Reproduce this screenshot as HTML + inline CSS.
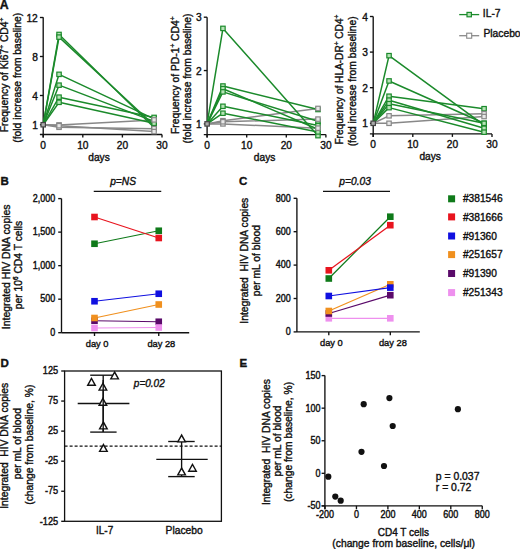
<!DOCTYPE html>
<html><head><meta charset="utf-8"><style>
html,body{margin:0;padding:0;background:#fff;}
svg{display:block;}
text{font-family:"Liberation Sans", sans-serif; stroke:#111; stroke-width:0.38px;}
</style></head><body>
<svg width="520" height="549" viewBox="0 0 520 549">
<rect x="0" y="0" width="520" height="549" fill="#fff"/>
<text x="-0.30" y="8.60" font-size="12.3" text-anchor="start" font-weight="bold" font-style="normal" fill="#111" >A</text>
<text x="0.50" y="185.30" font-size="11.5" text-anchor="start" font-weight="bold" font-style="normal" fill="#111" >B</text>
<text x="239.00" y="185.30" font-size="11.5" text-anchor="start" font-weight="bold" font-style="normal" fill="#111" >C</text>
<text x="0.40" y="367.40" font-size="11.5" text-anchor="start" font-weight="bold" font-style="normal" fill="#111" >D</text>
<text x="239.40" y="366.80" font-size="11.5" text-anchor="start" font-weight="bold" font-style="normal" fill="#111" >E</text>
<line x1="43.20" y1="17.20" x2="43.20" y2="137.50" stroke="#111" stroke-width="1.35" />
<line x1="39.90" y1="134.50" x2="162.00" y2="134.50" stroke="#111" stroke-width="1.35" />
<line x1="39.90" y1="124.75" x2="43.20" y2="124.75" stroke="#111" stroke-width="1.35" />
<text x="37.80" y="128.75" font-size="10.2" text-anchor="end" font-weight="normal" font-style="normal" fill="#111" >1</text>
<line x1="39.90" y1="95.50" x2="43.20" y2="95.50" stroke="#111" stroke-width="1.35" />
<text x="37.80" y="99.50" font-size="10.2" text-anchor="end" font-weight="normal" font-style="normal" fill="#111" >4</text>
<line x1="39.90" y1="56.50" x2="43.20" y2="56.50" stroke="#111" stroke-width="1.35" />
<text x="37.80" y="60.50" font-size="10.2" text-anchor="end" font-weight="normal" font-style="normal" fill="#111" >8</text>
<line x1="39.90" y1="17.50" x2="43.20" y2="17.50" stroke="#111" stroke-width="1.35" />
<text x="37.80" y="21.50" font-size="10.2" text-anchor="end" font-weight="normal" font-style="normal" fill="#111" >12</text>
<line x1="43.20" y1="134.50" x2="43.20" y2="137.50" stroke="#111" stroke-width="1.35" />
<text x="43.20" y="148.60" font-size="10.2" text-anchor="middle" font-weight="normal" font-style="normal" fill="#111" >0</text>
<line x1="82.80" y1="134.50" x2="82.80" y2="137.50" stroke="#111" stroke-width="1.35" />
<text x="82.80" y="148.60" font-size="10.2" text-anchor="middle" font-weight="normal" font-style="normal" fill="#111" >10</text>
<line x1="122.40" y1="134.50" x2="122.40" y2="137.50" stroke="#111" stroke-width="1.35" />
<text x="122.40" y="148.60" font-size="10.2" text-anchor="middle" font-weight="normal" font-style="normal" fill="#111" >20</text>
<line x1="162.00" y1="134.50" x2="162.00" y2="137.50" stroke="#111" stroke-width="1.35" />
<text x="162.00" y="148.60" font-size="10.2" text-anchor="middle" font-weight="normal" font-style="normal" fill="#111" >30</text>
<text x="99.00" y="161.00" font-size="10.2" text-anchor="middle" font-weight="normal" font-style="normal" fill="#111" >days</text>
<text transform="translate(7.70,132.30) rotate(-90)" font-size="10.3" fill="#111">Frequency of Ki67<tspan font-size="6.5" dy="-3.6">+</tspan><tspan dy="3.6"> CD4</tspan><tspan font-size="6.5" dy="-3.6">+</tspan></text>
<text transform="translate(20.90,77.80) rotate(-90)" font-size="10.3" text-anchor="middle" font-weight="normal" font-style="normal" fill="#111" >(fold increase from baseline)</text>
<polyline points="43.20,124.75 59.04,124.94 154.08,119.88" fill="none" stroke="#888888" stroke-width="1.5" stroke-linejoin="round"/>
<polyline points="43.20,124.75 59.04,127.28 154.08,128.65" fill="none" stroke="#888888" stroke-width="1.5" stroke-linejoin="round"/>
<polyline points="43.20,124.75 59.04,125.72 154.08,131.57" fill="none" stroke="#888888" stroke-width="1.5" stroke-linejoin="round"/>
<polyline points="43.20,124.75 59.04,34.47 154.08,127.48" fill="none" stroke="#1b8a2b" stroke-width="1.5" stroke-linejoin="round"/>
<polyline points="43.20,124.75 59.04,37.10 154.08,125.24" fill="none" stroke="#1b8a2b" stroke-width="1.5" stroke-linejoin="round"/>
<polyline points="43.20,124.75 59.04,74.34 154.08,118.90" fill="none" stroke="#1b8a2b" stroke-width="1.5" stroke-linejoin="round"/>
<polyline points="43.20,124.75 59.04,85.17 154.08,121.34" fill="none" stroke="#1b8a2b" stroke-width="1.5" stroke-linejoin="round"/>
<polyline points="43.20,124.75 59.04,97.16 154.08,117.44" fill="none" stroke="#1b8a2b" stroke-width="1.5" stroke-linejoin="round"/>
<polyline points="43.20,124.75 59.04,102.33 154.08,123.29" fill="none" stroke="#1b8a2b" stroke-width="1.5" stroke-linejoin="round"/>
<rect x="56.84" y="32.27" width="4.4" height="4.4" fill="#b6e3b6" stroke="#1b8a2b" stroke-width="1.2"/>
<rect x="151.88" y="125.28" width="4.4" height="4.4" fill="#b6e3b6" stroke="#1b8a2b" stroke-width="1.2"/>
<rect x="56.84" y="34.90" width="4.4" height="4.4" fill="#b6e3b6" stroke="#1b8a2b" stroke-width="1.2"/>
<rect x="151.88" y="123.04" width="4.4" height="4.4" fill="#b6e3b6" stroke="#1b8a2b" stroke-width="1.2"/>
<rect x="56.84" y="72.14" width="4.4" height="4.4" fill="#b6e3b6" stroke="#1b8a2b" stroke-width="1.2"/>
<rect x="151.88" y="116.70" width="4.4" height="4.4" fill="#b6e3b6" stroke="#1b8a2b" stroke-width="1.2"/>
<rect x="56.84" y="82.97" width="4.4" height="4.4" fill="#b6e3b6" stroke="#1b8a2b" stroke-width="1.2"/>
<rect x="151.88" y="119.14" width="4.4" height="4.4" fill="#b6e3b6" stroke="#1b8a2b" stroke-width="1.2"/>
<rect x="56.84" y="94.96" width="4.4" height="4.4" fill="#b6e3b6" stroke="#1b8a2b" stroke-width="1.2"/>
<rect x="151.88" y="115.24" width="4.4" height="4.4" fill="#b6e3b6" stroke="#1b8a2b" stroke-width="1.2"/>
<rect x="56.84" y="100.12" width="4.4" height="4.4" fill="#b6e3b6" stroke="#1b8a2b" stroke-width="1.2"/>
<rect x="151.88" y="121.09" width="4.4" height="4.4" fill="#b6e3b6" stroke="#1b8a2b" stroke-width="1.2"/>
<rect x="56.84" y="122.74" width="4.4" height="4.4" fill="#e8e8e8" stroke="#888888" stroke-width="1.2"/>
<rect x="151.88" y="117.67" width="4.4" height="4.4" fill="#e8e8e8" stroke="#888888" stroke-width="1.2"/>
<rect x="56.84" y="125.08" width="4.4" height="4.4" fill="#e8e8e8" stroke="#888888" stroke-width="1.2"/>
<rect x="151.88" y="126.45" width="4.4" height="4.4" fill="#e8e8e8" stroke="#888888" stroke-width="1.2"/>
<rect x="56.84" y="123.52" width="4.4" height="4.4" fill="#e8e8e8" stroke="#888888" stroke-width="1.2"/>
<rect x="151.88" y="129.38" width="4.4" height="4.4" fill="#e8e8e8" stroke="#888888" stroke-width="1.2"/>
<rect x="41.00" y="122.55" width="4.4" height="4.4" fill="#aaa" stroke="#444" stroke-width="1.2"/>
<line x1="207.10" y1="17.20" x2="207.10" y2="137.60" stroke="#111" stroke-width="1.35" />
<line x1="203.80" y1="134.60" x2="325.90" y2="134.60" stroke="#111" stroke-width="1.35" />
<line x1="203.80" y1="123.90" x2="207.10" y2="123.90" stroke="#111" stroke-width="1.35" />
<text x="201.70" y="127.90" font-size="10.2" text-anchor="end" font-weight="normal" font-style="normal" fill="#111" >1</text>
<line x1="203.80" y1="70.55" x2="207.10" y2="70.55" stroke="#111" stroke-width="1.35" />
<text x="201.70" y="74.55" font-size="10.2" text-anchor="end" font-weight="normal" font-style="normal" fill="#111" >2</text>
<line x1="203.80" y1="17.20" x2="207.10" y2="17.20" stroke="#111" stroke-width="1.35" />
<text x="201.70" y="21.20" font-size="10.2" text-anchor="end" font-weight="normal" font-style="normal" fill="#111" >3</text>
<line x1="207.10" y1="134.60" x2="207.10" y2="137.60" stroke="#111" stroke-width="1.35" />
<text x="207.10" y="148.70" font-size="10.2" text-anchor="middle" font-weight="normal" font-style="normal" fill="#111" >0</text>
<line x1="246.70" y1="134.60" x2="246.70" y2="137.60" stroke="#111" stroke-width="1.35" />
<text x="246.70" y="148.70" font-size="10.2" text-anchor="middle" font-weight="normal" font-style="normal" fill="#111" >10</text>
<line x1="286.30" y1="134.60" x2="286.30" y2="137.60" stroke="#111" stroke-width="1.35" />
<text x="286.30" y="148.70" font-size="10.2" text-anchor="middle" font-weight="normal" font-style="normal" fill="#111" >20</text>
<line x1="325.90" y1="134.60" x2="325.90" y2="137.60" stroke="#111" stroke-width="1.35" />
<text x="325.90" y="148.70" font-size="10.2" text-anchor="middle" font-weight="normal" font-style="normal" fill="#111" >30</text>
<text x="264.60" y="161.10" font-size="10.2" text-anchor="middle" font-weight="normal" font-style="normal" fill="#111" >days</text>
<text transform="translate(178.50,134.00) rotate(-90)" font-size="10.3" fill="#111">Frequency of PD-1<tspan font-size="6.5" dy="-3.6">+</tspan><tspan dy="3.6"> CD4</tspan><tspan font-size="6.5" dy="-3.6">+</tspan></text>
<text transform="translate(191.20,78.50) rotate(-90)" font-size="10.3" text-anchor="middle" font-weight="normal" font-style="normal" fill="#111" >(fold increase from baseline)</text>
<polyline points="207.10,123.90 222.94,120.70 317.98,108.43" fill="none" stroke="#888888" stroke-width="1.5" stroke-linejoin="round"/>
<polyline points="207.10,123.90 222.94,123.90 317.98,128.17" fill="none" stroke="#888888" stroke-width="1.5" stroke-linejoin="round"/>
<polyline points="207.10,123.90 222.94,121.77 317.98,119.10" fill="none" stroke="#888888" stroke-width="1.5" stroke-linejoin="round"/>
<polyline points="207.10,123.90 222.94,28.40 317.98,135.64" fill="none" stroke="#1b8a2b" stroke-width="1.5" stroke-linejoin="round"/>
<polyline points="207.10,123.90 222.94,86.02 317.98,109.50" fill="none" stroke="#1b8a2b" stroke-width="1.5" stroke-linejoin="round"/>
<polyline points="207.10,123.90 222.94,88.69 317.98,129.24" fill="none" stroke="#1b8a2b" stroke-width="1.5" stroke-linejoin="round"/>
<polyline points="207.10,123.90 222.94,91.89 317.98,121.23" fill="none" stroke="#1b8a2b" stroke-width="1.5" stroke-linejoin="round"/>
<polyline points="207.10,123.90 222.94,106.29 317.98,125.50" fill="none" stroke="#1b8a2b" stroke-width="1.5" stroke-linejoin="round"/>
<polyline points="207.10,123.90 222.94,113.23 317.98,131.90" fill="none" stroke="#1b8a2b" stroke-width="1.5" stroke-linejoin="round"/>
<rect x="220.74" y="26.20" width="4.4" height="4.4" fill="#b6e3b6" stroke="#1b8a2b" stroke-width="1.2"/>
<rect x="315.78" y="133.44" width="4.4" height="4.4" fill="#b6e3b6" stroke="#1b8a2b" stroke-width="1.2"/>
<rect x="220.74" y="83.82" width="4.4" height="4.4" fill="#b6e3b6" stroke="#1b8a2b" stroke-width="1.2"/>
<rect x="315.78" y="107.30" width="4.4" height="4.4" fill="#b6e3b6" stroke="#1b8a2b" stroke-width="1.2"/>
<rect x="220.74" y="86.49" width="4.4" height="4.4" fill="#b6e3b6" stroke="#1b8a2b" stroke-width="1.2"/>
<rect x="315.78" y="127.04" width="4.4" height="4.4" fill="#b6e3b6" stroke="#1b8a2b" stroke-width="1.2"/>
<rect x="220.74" y="89.69" width="4.4" height="4.4" fill="#b6e3b6" stroke="#1b8a2b" stroke-width="1.2"/>
<rect x="315.78" y="119.03" width="4.4" height="4.4" fill="#b6e3b6" stroke="#1b8a2b" stroke-width="1.2"/>
<rect x="220.74" y="104.09" width="4.4" height="4.4" fill="#b6e3b6" stroke="#1b8a2b" stroke-width="1.2"/>
<rect x="315.78" y="123.30" width="4.4" height="4.4" fill="#b6e3b6" stroke="#1b8a2b" stroke-width="1.2"/>
<rect x="220.74" y="111.03" width="4.4" height="4.4" fill="#b6e3b6" stroke="#1b8a2b" stroke-width="1.2"/>
<rect x="315.78" y="129.70" width="4.4" height="4.4" fill="#b6e3b6" stroke="#1b8a2b" stroke-width="1.2"/>
<rect x="220.74" y="118.50" width="4.4" height="4.4" fill="#e8e8e8" stroke="#888888" stroke-width="1.2"/>
<rect x="315.78" y="106.23" width="4.4" height="4.4" fill="#e8e8e8" stroke="#888888" stroke-width="1.2"/>
<rect x="220.74" y="121.70" width="4.4" height="4.4" fill="#e8e8e8" stroke="#888888" stroke-width="1.2"/>
<rect x="315.78" y="125.97" width="4.4" height="4.4" fill="#e8e8e8" stroke="#888888" stroke-width="1.2"/>
<rect x="220.74" y="119.57" width="4.4" height="4.4" fill="#e8e8e8" stroke="#888888" stroke-width="1.2"/>
<rect x="315.78" y="116.90" width="4.4" height="4.4" fill="#e8e8e8" stroke="#888888" stroke-width="1.2"/>
<rect x="204.90" y="121.70" width="4.4" height="4.4" fill="#aaa" stroke="#444" stroke-width="1.2"/>
<line x1="373.20" y1="16.50" x2="373.20" y2="136.90" stroke="#111" stroke-width="1.35" />
<line x1="369.90" y1="133.90" x2="492.00" y2="133.90" stroke="#111" stroke-width="1.35" />
<line x1="369.90" y1="123.30" x2="373.20" y2="123.30" stroke="#111" stroke-width="1.35" />
<text x="367.80" y="127.30" font-size="10.2" text-anchor="end" font-weight="normal" font-style="normal" fill="#111" >1</text>
<line x1="369.90" y1="87.70" x2="373.20" y2="87.70" stroke="#111" stroke-width="1.35" />
<text x="367.80" y="91.70" font-size="10.2" text-anchor="end" font-weight="normal" font-style="normal" fill="#111" >2</text>
<line x1="369.90" y1="52.10" x2="373.20" y2="52.10" stroke="#111" stroke-width="1.35" />
<text x="367.80" y="56.10" font-size="10.2" text-anchor="end" font-weight="normal" font-style="normal" fill="#111" >3</text>
<line x1="369.90" y1="16.50" x2="373.20" y2="16.50" stroke="#111" stroke-width="1.35" />
<text x="367.80" y="20.50" font-size="10.2" text-anchor="end" font-weight="normal" font-style="normal" fill="#111" >4</text>
<line x1="373.20" y1="133.90" x2="373.20" y2="136.90" stroke="#111" stroke-width="1.35" />
<text x="373.20" y="148.00" font-size="10.2" text-anchor="middle" font-weight="normal" font-style="normal" fill="#111" >0</text>
<line x1="412.80" y1="133.90" x2="412.80" y2="136.90" stroke="#111" stroke-width="1.35" />
<text x="412.80" y="148.00" font-size="10.2" text-anchor="middle" font-weight="normal" font-style="normal" fill="#111" >10</text>
<line x1="452.40" y1="133.90" x2="452.40" y2="136.90" stroke="#111" stroke-width="1.35" />
<text x="452.40" y="148.00" font-size="10.2" text-anchor="middle" font-weight="normal" font-style="normal" fill="#111" >20</text>
<line x1="492.00" y1="133.90" x2="492.00" y2="136.90" stroke="#111" stroke-width="1.35" />
<text x="492.00" y="148.00" font-size="10.2" text-anchor="middle" font-weight="normal" font-style="normal" fill="#111" >30</text>
<text x="430.20" y="160.40" font-size="10.2" text-anchor="middle" font-weight="normal" font-style="normal" fill="#111" >days</text>
<text transform="translate(343.00,144.60) rotate(-90)" font-size="10.1" fill="#111">Frequency of HLA-DR<tspan font-size="6.5" dy="-3.6">+</tspan><tspan dy="3.6"> CD4</tspan><tspan font-size="6.5" dy="-3.6">+</tspan></text>
<text transform="translate(356.00,81.40) rotate(-90)" font-size="10.3" text-anchor="middle" font-weight="normal" font-style="normal" fill="#111" >(fold increase from baseline)</text>
<polyline points="373.20,123.30 389.04,115.82 484.08,113.69" fill="none" stroke="#888888" stroke-width="1.5" stroke-linejoin="round"/>
<polyline points="373.20,123.30 389.04,123.30 484.08,116.54" fill="none" stroke="#888888" stroke-width="1.5" stroke-linejoin="round"/>
<polyline points="373.20,123.30 389.04,55.66 484.08,125.08" fill="none" stroke="#1b8a2b" stroke-width="1.5" stroke-linejoin="round"/>
<polyline points="373.20,123.30 389.04,80.94 484.08,123.30" fill="none" stroke="#1b8a2b" stroke-width="1.5" stroke-linejoin="round"/>
<polyline points="373.20,123.30 389.04,96.24 484.08,108.70" fill="none" stroke="#1b8a2b" stroke-width="1.5" stroke-linejoin="round"/>
<polyline points="373.20,123.30 389.04,100.16 484.08,128.28" fill="none" stroke="#1b8a2b" stroke-width="1.5" stroke-linejoin="round"/>
<polyline points="373.20,123.30 389.04,103.72 484.08,123.30" fill="none" stroke="#1b8a2b" stroke-width="1.5" stroke-linejoin="round"/>
<polyline points="373.20,123.30 389.04,107.64 484.08,132.20" fill="none" stroke="#1b8a2b" stroke-width="1.5" stroke-linejoin="round"/>
<rect x="386.84" y="53.46" width="4.4" height="4.4" fill="#b6e3b6" stroke="#1b8a2b" stroke-width="1.2"/>
<rect x="481.88" y="122.88" width="4.4" height="4.4" fill="#b6e3b6" stroke="#1b8a2b" stroke-width="1.2"/>
<rect x="386.84" y="78.74" width="4.4" height="4.4" fill="#b6e3b6" stroke="#1b8a2b" stroke-width="1.2"/>
<rect x="481.88" y="121.10" width="4.4" height="4.4" fill="#b6e3b6" stroke="#1b8a2b" stroke-width="1.2"/>
<rect x="386.84" y="94.04" width="4.4" height="4.4" fill="#b6e3b6" stroke="#1b8a2b" stroke-width="1.2"/>
<rect x="481.88" y="106.50" width="4.4" height="4.4" fill="#b6e3b6" stroke="#1b8a2b" stroke-width="1.2"/>
<rect x="386.84" y="97.96" width="4.4" height="4.4" fill="#b6e3b6" stroke="#1b8a2b" stroke-width="1.2"/>
<rect x="481.88" y="126.08" width="4.4" height="4.4" fill="#b6e3b6" stroke="#1b8a2b" stroke-width="1.2"/>
<rect x="386.84" y="101.52" width="4.4" height="4.4" fill="#b6e3b6" stroke="#1b8a2b" stroke-width="1.2"/>
<rect x="481.88" y="121.10" width="4.4" height="4.4" fill="#b6e3b6" stroke="#1b8a2b" stroke-width="1.2"/>
<rect x="386.84" y="105.44" width="4.4" height="4.4" fill="#b6e3b6" stroke="#1b8a2b" stroke-width="1.2"/>
<rect x="481.88" y="130.00" width="4.4" height="4.4" fill="#b6e3b6" stroke="#1b8a2b" stroke-width="1.2"/>
<rect x="386.84" y="113.62" width="4.4" height="4.4" fill="#e8e8e8" stroke="#888888" stroke-width="1.2"/>
<rect x="481.88" y="111.49" width="4.4" height="4.4" fill="#e8e8e8" stroke="#888888" stroke-width="1.2"/>
<rect x="386.84" y="121.10" width="4.4" height="4.4" fill="#e8e8e8" stroke="#888888" stroke-width="1.2"/>
<rect x="481.88" y="114.34" width="4.4" height="4.4" fill="#e8e8e8" stroke="#888888" stroke-width="1.2"/>
<rect x="371.00" y="121.10" width="4.4" height="4.4" fill="#aaa" stroke="#444" stroke-width="1.2"/>
<line x1="459.20" y1="14.60" x2="479.20" y2="14.60" stroke="#1b8a2b" stroke-width="1.3" />
<rect x="467.00" y="12.40" width="4.4" height="4.4" fill="#b6e3b6" stroke="#1b8a2b" stroke-width="1.2"/>
<text x="482.80" y="16.60" font-size="10.3" text-anchor="start" font-weight="normal" font-style="normal" fill="#111" >IL-7</text>
<line x1="459.20" y1="35.70" x2="479.20" y2="35.70" stroke="#888888" stroke-width="1.3" />
<rect x="466.70" y="33.20" width="5" height="5" fill="#fff" stroke="#888888" stroke-width="1.1"/>
<text x="483.40" y="37.40" font-size="10.3" text-anchor="start" font-weight="normal" font-style="normal" fill="#111" >Placebo</text>
<line x1="61.50" y1="198.60" x2="61.50" y2="332.70" stroke="#111" stroke-width="1.35" />
<line x1="61.50" y1="332.70" x2="189.20" y2="332.70" stroke="#111" stroke-width="1.35" />
<line x1="58.20" y1="332.70" x2="61.50" y2="332.70" stroke="#111" stroke-width="1.35" />
<text transform="translate(55.30,335.90) scale(1,1.14)" font-size="9.0" text-anchor="end" font-weight="normal" font-style="normal" fill="#111" >0</text>
<line x1="58.20" y1="299.18" x2="61.50" y2="299.18" stroke="#111" stroke-width="1.35" />
<text transform="translate(55.30,302.38) scale(1,1.14)" font-size="9.0" text-anchor="end" font-weight="normal" font-style="normal" fill="#111" >500</text>
<line x1="58.20" y1="265.65" x2="61.50" y2="265.65" stroke="#111" stroke-width="1.35" />
<text transform="translate(55.30,268.85) scale(1,1.14)" font-size="9.0" text-anchor="end" font-weight="normal" font-style="normal" fill="#111" >1,000</text>
<line x1="58.20" y1="232.12" x2="61.50" y2="232.12" stroke="#111" stroke-width="1.35" />
<text transform="translate(55.30,235.32) scale(1,1.14)" font-size="9.0" text-anchor="end" font-weight="normal" font-style="normal" fill="#111" >1,500</text>
<line x1="58.20" y1="198.60" x2="61.50" y2="198.60" stroke="#111" stroke-width="1.35" />
<text transform="translate(55.30,201.80) scale(1,1.14)" font-size="9.0" text-anchor="end" font-weight="normal" font-style="normal" fill="#111" >2,000</text>
<line x1="94.50" y1="332.70" x2="94.50" y2="336.00" stroke="#111" stroke-width="1.35" />
<text x="97.10" y="347.20" font-size="9.3" text-anchor="middle" font-weight="normal" font-style="normal" fill="#111" >day 0</text>
<line x1="158.75" y1="332.70" x2="158.75" y2="336.00" stroke="#111" stroke-width="1.35" />
<text x="161.35" y="347.20" font-size="9.3" text-anchor="middle" font-weight="normal" font-style="normal" fill="#111" >day 28</text>
<line x1="94.50" y1="320.75" x2="158.75" y2="321.75" stroke="#5a0a6a" stroke-width="1.25" />
<line x1="94.50" y1="328.00" x2="158.75" y2="327.50" stroke="#ee90ee" stroke-width="1.25" />
<line x1="94.50" y1="318.00" x2="158.75" y2="304.50" stroke="#f0901e" stroke-width="1.25" />
<line x1="94.50" y1="301.25" x2="158.75" y2="293.75" stroke="#1010e0" stroke-width="1.25" />
<line x1="94.50" y1="243.75" x2="158.75" y2="230.75" stroke="#0f7a1a" stroke-width="1.25" />
<line x1="94.50" y1="217.00" x2="158.75" y2="238.00" stroke="#e8141e" stroke-width="1.25" />
<rect x="91.20" y="317.45" width="6.6" height="6.6" fill="#5a0a6a"/>
<rect x="155.45" y="318.45" width="6.6" height="6.6" fill="#5a0a6a"/>
<rect x="91.20" y="324.70" width="6.6" height="6.6" fill="#ee90ee"/>
<rect x="155.45" y="324.20" width="6.6" height="6.6" fill="#ee90ee"/>
<rect x="91.20" y="314.70" width="6.6" height="6.6" fill="#f0901e"/>
<rect x="155.45" y="301.20" width="6.6" height="6.6" fill="#f0901e"/>
<rect x="91.20" y="297.95" width="6.6" height="6.6" fill="#1010e0"/>
<rect x="155.45" y="290.45" width="6.6" height="6.6" fill="#1010e0"/>
<rect x="91.20" y="240.45" width="6.6" height="6.6" fill="#0f7a1a"/>
<rect x="155.45" y="227.45" width="6.6" height="6.6" fill="#0f7a1a"/>
<rect x="91.20" y="213.70" width="6.6" height="6.6" fill="#e8141e"/>
<rect x="155.45" y="234.70" width="6.6" height="6.6" fill="#e8141e"/>
<text x="123.10" y="184.60" font-size="10.2" text-anchor="middle" font-weight="normal" font-style="italic" fill="#111" >p=NS</text>
<line x1="93.75" y1="191.30" x2="161.25" y2="191.30" stroke="#111" stroke-width="1.2" />
<text transform="translate(9.60,266.80) rotate(-90)" font-size="10.45" text-anchor="middle" font-weight="normal" font-style="normal" fill="#111" >Integrated HIV DNA copies</text>
<text transform="translate(21.8,265.0) rotate(-90)" font-size="10.3" text-anchor="middle" fill="#111">per 10<tspan font-size="6.5" dy="-3.6">6</tspan><tspan dy="3.6"> CD4 T cells</tspan></text>
<line x1="296.90" y1="198.30" x2="296.90" y2="331.90" stroke="#111" stroke-width="1.35" />
<line x1="296.90" y1="331.90" x2="419.80" y2="331.90" stroke="#111" stroke-width="1.35" />
<line x1="293.60" y1="331.90" x2="296.90" y2="331.90" stroke="#111" stroke-width="1.35" />
<text transform="translate(290.70,335.10) scale(1,1.14)" font-size="9.0" text-anchor="end" font-weight="normal" font-style="normal" fill="#111" >0</text>
<line x1="293.60" y1="298.50" x2="296.90" y2="298.50" stroke="#111" stroke-width="1.35" />
<text transform="translate(290.70,301.70) scale(1,1.14)" font-size="9.0" text-anchor="end" font-weight="normal" font-style="normal" fill="#111" >200</text>
<line x1="293.60" y1="265.10" x2="296.90" y2="265.10" stroke="#111" stroke-width="1.35" />
<text transform="translate(290.70,268.30) scale(1,1.14)" font-size="9.0" text-anchor="end" font-weight="normal" font-style="normal" fill="#111" >400</text>
<line x1="293.60" y1="231.70" x2="296.90" y2="231.70" stroke="#111" stroke-width="1.35" />
<text transform="translate(290.70,234.90) scale(1,1.14)" font-size="9.0" text-anchor="end" font-weight="normal" font-style="normal" fill="#111" >600</text>
<line x1="293.60" y1="198.30" x2="296.90" y2="198.30" stroke="#111" stroke-width="1.35" />
<text transform="translate(290.70,201.50) scale(1,1.14)" font-size="9.0" text-anchor="end" font-weight="normal" font-style="normal" fill="#111" >800</text>
<line x1="328.80" y1="331.90" x2="328.80" y2="335.20" stroke="#111" stroke-width="1.35" />
<text x="331.40" y="346.40" font-size="9.3" text-anchor="middle" font-weight="normal" font-style="normal" fill="#111" >day 0</text>
<line x1="390.30" y1="331.90" x2="390.30" y2="335.20" stroke="#111" stroke-width="1.35" />
<text x="392.90" y="346.40" font-size="9.3" text-anchor="middle" font-weight="normal" font-style="normal" fill="#111" >day 28</text>
<line x1="328.80" y1="318.30" x2="390.30" y2="318.30" stroke="#ee90ee" stroke-width="1.25" />
<line x1="328.80" y1="313.50" x2="390.30" y2="295.20" stroke="#5a0a6a" stroke-width="1.25" />
<line x1="328.80" y1="311.00" x2="390.30" y2="284.30" stroke="#f0901e" stroke-width="1.25" />
<line x1="328.80" y1="296.00" x2="390.30" y2="287.60" stroke="#1010e0" stroke-width="1.25" />
<line x1="328.80" y1="278.50" x2="390.30" y2="216.70" stroke="#0f7a1a" stroke-width="1.25" />
<line x1="328.80" y1="270.30" x2="390.30" y2="225.20" stroke="#e8141e" stroke-width="1.25" />
<rect x="325.50" y="315.00" width="6.6" height="6.6" fill="#ee90ee"/>
<rect x="387.00" y="315.00" width="6.6" height="6.6" fill="#ee90ee"/>
<rect x="325.50" y="310.20" width="6.6" height="6.6" fill="#5a0a6a"/>
<rect x="387.00" y="291.90" width="6.6" height="6.6" fill="#5a0a6a"/>
<rect x="325.50" y="307.70" width="6.6" height="6.6" fill="#f0901e"/>
<rect x="387.00" y="281.00" width="6.6" height="6.6" fill="#f0901e"/>
<rect x="325.50" y="292.70" width="6.6" height="6.6" fill="#1010e0"/>
<rect x="387.00" y="284.30" width="6.6" height="6.6" fill="#1010e0"/>
<rect x="325.50" y="275.20" width="6.6" height="6.6" fill="#0f7a1a"/>
<rect x="387.00" y="213.40" width="6.6" height="6.6" fill="#0f7a1a"/>
<rect x="325.50" y="267.00" width="6.6" height="6.6" fill="#e8141e"/>
<rect x="387.00" y="221.90" width="6.6" height="6.6" fill="#e8141e"/>
<text x="355.10" y="184.60" font-size="10.2" text-anchor="middle" font-weight="normal" font-style="italic" fill="#111" >p=0.03</text>
<line x1="323.00" y1="191.30" x2="390.00" y2="191.30" stroke="#111" stroke-width="1.2" />
<text transform="translate(247.50,260.70) rotate(-90)" font-size="10.3" text-anchor="middle" font-weight="normal" font-style="normal" fill="#111" xml:space="preserve">Integrated  HIV DNA copies</text>
<text transform="translate(260.00,260.70) rotate(-90)" font-size="10.3" text-anchor="middle" font-weight="normal" font-style="normal" fill="#111" >per mL of blood</text>
<rect x="448.10" y="195.30" width="7.0" height="7.0" fill="#0f7a1a"/>
<text x="462.90" y="202.40" font-size="10.2" text-anchor="start" font-weight="normal" font-style="normal" fill="#111" >#381546</text>
<rect x="448.10" y="213.40" width="7.0" height="7.0" fill="#e8141e"/>
<text x="462.90" y="220.50" font-size="10.2" text-anchor="start" font-weight="normal" font-style="normal" fill="#111" >#381666</text>
<rect x="448.10" y="232.50" width="7.0" height="7.0" fill="#1010e0"/>
<text x="462.90" y="239.60" font-size="10.2" text-anchor="start" font-weight="normal" font-style="normal" fill="#111" >#91360</text>
<rect x="448.10" y="251.10" width="7.0" height="7.0" fill="#f0901e"/>
<text x="462.90" y="258.20" font-size="10.2" text-anchor="start" font-weight="normal" font-style="normal" fill="#111" >#251657</text>
<rect x="448.10" y="270.00" width="7.0" height="7.0" fill="#5a0a6a"/>
<text x="462.90" y="277.10" font-size="10.2" text-anchor="start" font-weight="normal" font-style="normal" fill="#111" >#91390</text>
<rect x="448.10" y="289.10" width="7.0" height="7.0" fill="#ee90ee"/>
<text x="462.90" y="296.20" font-size="10.2" text-anchor="start" font-weight="normal" font-style="normal" fill="#111" >#251343</text>
<rect x="64.6" y="371.0" width="156.8" height="150.3" fill="none" stroke="#111" stroke-width="1.3"/>
<line x1="61.20" y1="371.00" x2="64.60" y2="371.00" stroke="#111" stroke-width="1.35" />
<text transform="translate(58.20,374.20) scale(1,1.14)" font-size="9.2" text-anchor="end" font-weight="normal" font-style="normal" fill="#111" >125</text>
<line x1="61.20" y1="401.06" x2="64.60" y2="401.06" stroke="#111" stroke-width="1.35" />
<text transform="translate(58.20,404.26) scale(1,1.14)" font-size="9.2" text-anchor="end" font-weight="normal" font-style="normal" fill="#111" >75</text>
<line x1="61.20" y1="431.12" x2="64.60" y2="431.12" stroke="#111" stroke-width="1.35" />
<text transform="translate(58.20,434.32) scale(1,1.14)" font-size="9.2" text-anchor="end" font-weight="normal" font-style="normal" fill="#111" >25</text>
<line x1="61.20" y1="461.18" x2="64.60" y2="461.18" stroke="#111" stroke-width="1.35" />
<text transform="translate(58.20,464.38) scale(1,1.14)" font-size="9.2" text-anchor="end" font-weight="normal" font-style="normal" fill="#111" >-25</text>
<line x1="61.20" y1="491.24" x2="64.60" y2="491.24" stroke="#111" stroke-width="1.35" />
<text transform="translate(58.20,494.44) scale(1,1.14)" font-size="9.2" text-anchor="end" font-weight="normal" font-style="normal" fill="#111" >-75</text>
<line x1="61.20" y1="521.30" x2="64.60" y2="521.30" stroke="#111" stroke-width="1.35" />
<text transform="translate(58.20,524.50) scale(1,1.14)" font-size="9.2" text-anchor="end" font-weight="normal" font-style="normal" fill="#111" >-125</text>
<line x1="64.60" y1="446.10" x2="221.40" y2="446.10" stroke="#111" stroke-width="1.1" stroke-dasharray="3,2"/>
<line x1="103.20" y1="375.20" x2="103.20" y2="432.10" stroke="#111" stroke-width="1.35" />
<line x1="90.20" y1="375.20" x2="116.30" y2="375.20" stroke="#111" stroke-width="1.35" />
<line x1="77.70" y1="403.50" x2="129.40" y2="403.50" stroke="#111" stroke-width="1.35" />
<line x1="90.20" y1="432.10" x2="116.60" y2="432.10" stroke="#111" stroke-width="1.35" />
<polygon points="114.60,372.06 110.80,378.90 118.40,378.90" fill="#fff" stroke="#111" stroke-width="1.4"/>
<polygon points="91.50,378.46 87.70,385.30 95.30,385.30" fill="#fff" stroke="#111" stroke-width="1.4"/>
<polygon points="102.90,383.26 99.10,390.10 106.70,390.10" fill="#fff" stroke="#111" stroke-width="1.4"/>
<polygon points="102.90,398.46 99.10,405.30 106.70,405.30" fill="#fff" stroke="#111" stroke-width="1.4"/>
<polygon points="103.40,422.06 99.60,428.90 107.20,428.90" fill="#fff" stroke="#111" stroke-width="1.4"/>
<polygon points="103.40,444.56 99.60,451.40 107.20,451.40" fill="#fff" stroke="#111" stroke-width="1.4"/>
<line x1="103.20" y1="380.00" x2="103.20" y2="432.10" stroke="#111" stroke-width="1.35" />
<line x1="181.60" y1="441.50" x2="181.60" y2="476.60" stroke="#111" stroke-width="1.35" />
<line x1="168.20" y1="441.50" x2="194.70" y2="441.50" stroke="#111" stroke-width="1.35" />
<line x1="156.30" y1="459.30" x2="207.70" y2="459.30" stroke="#111" stroke-width="1.35" />
<line x1="168.20" y1="476.60" x2="194.70" y2="476.60" stroke="#111" stroke-width="1.35" />
<polygon points="181.60,435.06 177.80,441.90 185.40,441.90" fill="#fff" stroke="#111" stroke-width="1.4"/>
<polygon points="192.50,464.36 188.70,471.20 196.30,471.20" fill="#fff" stroke="#111" stroke-width="1.4"/>
<polygon points="181.60,468.06 177.80,474.90 185.40,474.90" fill="#fff" stroke="#111" stroke-width="1.4"/>
<text x="149.30" y="387.20" font-size="10.0" text-anchor="middle" font-weight="normal" font-style="italic" fill="#111" >p=0.02</text>
<text transform="translate(104.60,534.10) scale(1,1.12)" font-size="10.0" text-anchor="middle" font-weight="normal" font-style="normal" fill="#111" >IL-7</text>
<text x="184.20" y="534.00" font-size="10.3" text-anchor="middle" font-weight="normal" font-style="normal" fill="#111" >Placebo</text>
<text transform="translate(7.80,445.80) rotate(-90)" font-size="10.3" text-anchor="middle" font-weight="normal" font-style="normal" fill="#111" xml:space="preserve">Integrated  HIV DNA copies</text>
<text transform="translate(20.60,443.70) rotate(-90)" font-size="10.3" text-anchor="middle" font-weight="normal" font-style="normal" fill="#111" >per mL of blood</text>
<text transform="translate(32.70,444.70) rotate(-90)" font-size="10.3" text-anchor="middle" font-weight="normal" font-style="normal" fill="#111" >(change from baseline, %)</text>
<line x1="324.90" y1="375.60" x2="324.90" y2="509.20" stroke="#111" stroke-width="1.35" />
<line x1="321.60" y1="505.80" x2="482.20" y2="505.80" stroke="#111" stroke-width="1.35" />
<line x1="321.60" y1="505.90" x2="324.90" y2="505.90" stroke="#111" stroke-width="1.35" />
<text transform="translate(320.60,509.30) scale(1,1.14)" font-size="9.0" text-anchor="end" font-weight="normal" font-style="normal" fill="#111" >-50</text>
<line x1="321.60" y1="473.32" x2="324.90" y2="473.32" stroke="#111" stroke-width="1.35" />
<text transform="translate(320.60,476.72) scale(1,1.14)" font-size="9.0" text-anchor="end" font-weight="normal" font-style="normal" fill="#111" >0</text>
<line x1="321.60" y1="440.75" x2="324.90" y2="440.75" stroke="#111" stroke-width="1.35" />
<text transform="translate(320.60,444.15) scale(1,1.14)" font-size="9.0" text-anchor="end" font-weight="normal" font-style="normal" fill="#111" >50</text>
<line x1="321.60" y1="408.17" x2="324.90" y2="408.17" stroke="#111" stroke-width="1.35" />
<text transform="translate(320.60,411.57) scale(1,1.14)" font-size="9.0" text-anchor="end" font-weight="normal" font-style="normal" fill="#111" >100</text>
<line x1="321.60" y1="375.60" x2="324.90" y2="375.60" stroke="#111" stroke-width="1.35" />
<text transform="translate(320.60,379.00) scale(1,1.14)" font-size="9.0" text-anchor="end" font-weight="normal" font-style="normal" fill="#111" >150</text>
<line x1="325.00" y1="505.80" x2="325.00" y2="509.20" stroke="#111" stroke-width="1.35" />
<text transform="translate(325.00,518.20) scale(1,1.14)" font-size="9.0" text-anchor="middle" font-weight="normal" font-style="normal" fill="#111" >-200</text>
<line x1="356.45" y1="505.80" x2="356.45" y2="509.20" stroke="#111" stroke-width="1.35" />
<text transform="translate(356.45,518.20) scale(1,1.14)" font-size="9.0" text-anchor="middle" font-weight="normal" font-style="normal" fill="#111" >0</text>
<line x1="387.90" y1="505.80" x2="387.90" y2="509.20" stroke="#111" stroke-width="1.35" />
<text transform="translate(387.90,518.20) scale(1,1.14)" font-size="9.0" text-anchor="middle" font-weight="normal" font-style="normal" fill="#111" >200</text>
<line x1="419.35" y1="505.80" x2="419.35" y2="509.20" stroke="#111" stroke-width="1.35" />
<text transform="translate(419.35,518.20) scale(1,1.14)" font-size="9.0" text-anchor="middle" font-weight="normal" font-style="normal" fill="#111" >400</text>
<line x1="450.80" y1="505.80" x2="450.80" y2="509.20" stroke="#111" stroke-width="1.35" />
<text transform="translate(450.80,518.20) scale(1,1.14)" font-size="9.0" text-anchor="middle" font-weight="normal" font-style="normal" fill="#111" >600</text>
<line x1="482.25" y1="505.80" x2="482.25" y2="509.20" stroke="#111" stroke-width="1.35" />
<text transform="translate(482.25,518.20) scale(1,1.14)" font-size="9.0" text-anchor="middle" font-weight="normal" font-style="normal" fill="#111" >800</text>
<circle cx="363.7" cy="404.2" r="3.1" fill="#111"/>
<circle cx="389.4" cy="398.1" r="3.1" fill="#111"/>
<circle cx="392.7" cy="426" r="3.1" fill="#111"/>
<circle cx="361.5" cy="451.8" r="3.1" fill="#111"/>
<circle cx="384" cy="466" r="3.1" fill="#111"/>
<circle cx="328.3" cy="476.7" r="3.1" fill="#111"/>
<circle cx="335.3" cy="496.6" r="3.1" fill="#111"/>
<circle cx="340.7" cy="500.7" r="3.1" fill="#111"/>
<circle cx="457.9" cy="409.2" r="3.1" fill="#111"/>
<text x="435.80" y="479.60" font-size="10.4" text-anchor="start" font-weight="normal" font-style="normal" fill="#111" >p = 0.037</text>
<text x="435.80" y="491.10" font-size="10.4" text-anchor="start" font-weight="normal" font-style="normal" fill="#111" >r = 0.72</text>
<text transform="translate(403.40,535.50) scale(1,1.1)" font-size="10.0" text-anchor="middle" font-weight="normal" font-style="normal" fill="#111" >CD4 T cells</text>
<text x="403.70" y="547.10" font-size="10.3" text-anchor="middle" font-weight="normal" font-style="normal" fill="#111" >(change from baseline, cells/μl)</text>
<text transform="translate(270.00,442.10) rotate(-90)" font-size="10.3" text-anchor="middle" font-weight="normal" font-style="normal" fill="#111" xml:space="preserve">Integrated  HIV DNA copies</text>
<text transform="translate(280.60,441.00) rotate(-90)" font-size="10.3" text-anchor="middle" font-weight="normal" font-style="normal" fill="#111" >per mL of blood</text>
<text transform="translate(292.00,442.00) rotate(-90)" font-size="10.3" text-anchor="middle" font-weight="normal" font-style="normal" fill="#111" >(change from baseline, %)</text>
</svg></body></html>
